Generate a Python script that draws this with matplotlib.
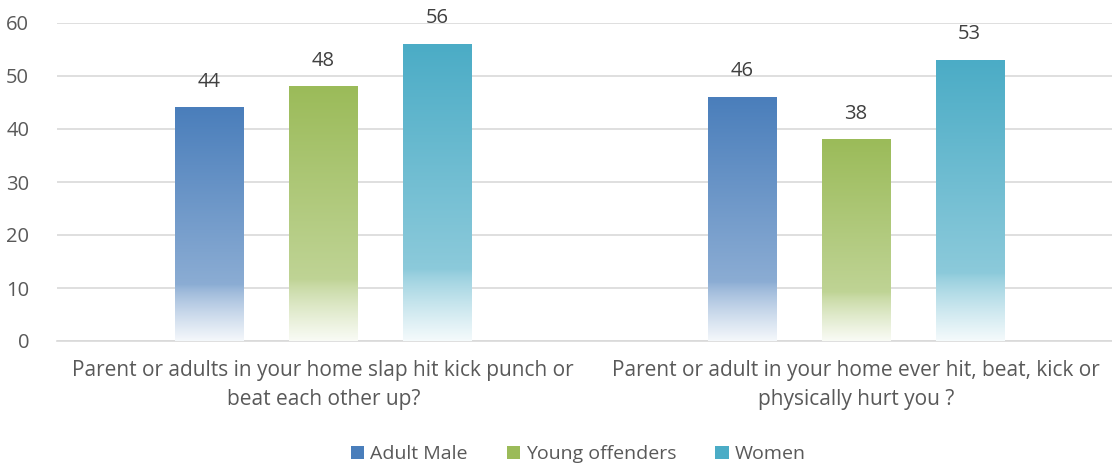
import numpy as np
import matplotlib
matplotlib.use("Agg")
import matplotlib.pyplot as plt
from matplotlib.colors import to_rgb
from matplotlib.patches import Patch

categories = ["Parent or adults in your home slap hit kick punch or\nbeat each other up?",
              "Parent or adult in your home ever hit, beat, kick or\nphysically hurt you ?"]
series = ["Adult Male", "Young offenders", "Women"]
adult_male = [44, 46]
young_offenders = [48, 38]
women = [56, 53]
colors = ["#4a7ebb", "#9bbb59", "#4bacc6"]

plt.rcParams["font.family"] = ["Open Sans", "DejaVu Sans"]

fig = plt.figure(figsize=(11.12, 4.67), dpi=100)
ax = fig.add_axes([57 / 1112, 126 / 467, 1055 / 1112, 318 / 467])

x = np.arange(len(categories))
width = 0.128
offset = 0.214


def gradient(color, n=256):
    c = np.array(to_rgb(color))
    w = np.ones(3)
    t = np.linspace(0, 1, n)  # 0 = top, 1 = bottom
    mix = np.where(t < 0.76, 0.36 * t / 0.76,
                   0.36 + (0.94 - 0.36) * ((t - 0.76) / 0.24) ** 0.8)
    rgb = c[None, :] * (1 - mix[:, None]) + w[None, :] * mix[:, None]
    return rgb[:, None, :]


for i, (vals, col) in enumerate(zip([adult_male, young_offenders, women], colors)):
    bars = ax.bar(x + (i - 1) * offset, vals, width, color="none", edgecolor="none", zorder=3)
    img = gradient(col)
    for b, v in zip(bars, vals):
        x0 = b.get_x()
        ax.imshow(img, extent=(x0, x0 + b.get_width(), 0, b.get_height()),
                  aspect="auto", zorder=3, interpolation="bilinear")
        ax.text(x0 + b.get_width() / 2, v + 3.0, str(v), ha="center", va="bottom",
                fontsize=14.5, color="#404040")

ax.set_xlim(-0.5, 1.481)
ax.set_ylim(0, 60)
ax.set_yticks(range(0, 61, 10))
ax.yaxis.grid(True, color="#d9d9d9", linewidth=1.2, zorder=0)
ax.set_axisbelow(True)
for s in ["top", "right", "left"]:
    ax.spines[s].set_visible(False)
ax.spines["bottom"].set_color("#d9d9d9")
ax.spines["bottom"].set_linewidth(1.2)
ax.tick_params(axis="y", length=0, labelsize=14.5, labelcolor="#595959", pad=20)
ax.tick_params(axis="x", length=0, labelsize=15, labelcolor="#595959", pad=14)
ax.set_xticks(x)
ax.set_xticklabels(categories, linespacing=1.5)

handles = [Patch(facecolor=c, edgecolor="none") for c in colors]
fig.legend(handles, series, loc="center", bbox_to_anchor=(0.52, 0.027), ncol=3, frameon=False,
           fontsize=14, labelcolor="#595959", handlelength=0.7, handleheight=0.7,
           handletextpad=0.3, columnspacing=2.0)

fig.savefig("out.png", dpi=100, facecolor="white")
